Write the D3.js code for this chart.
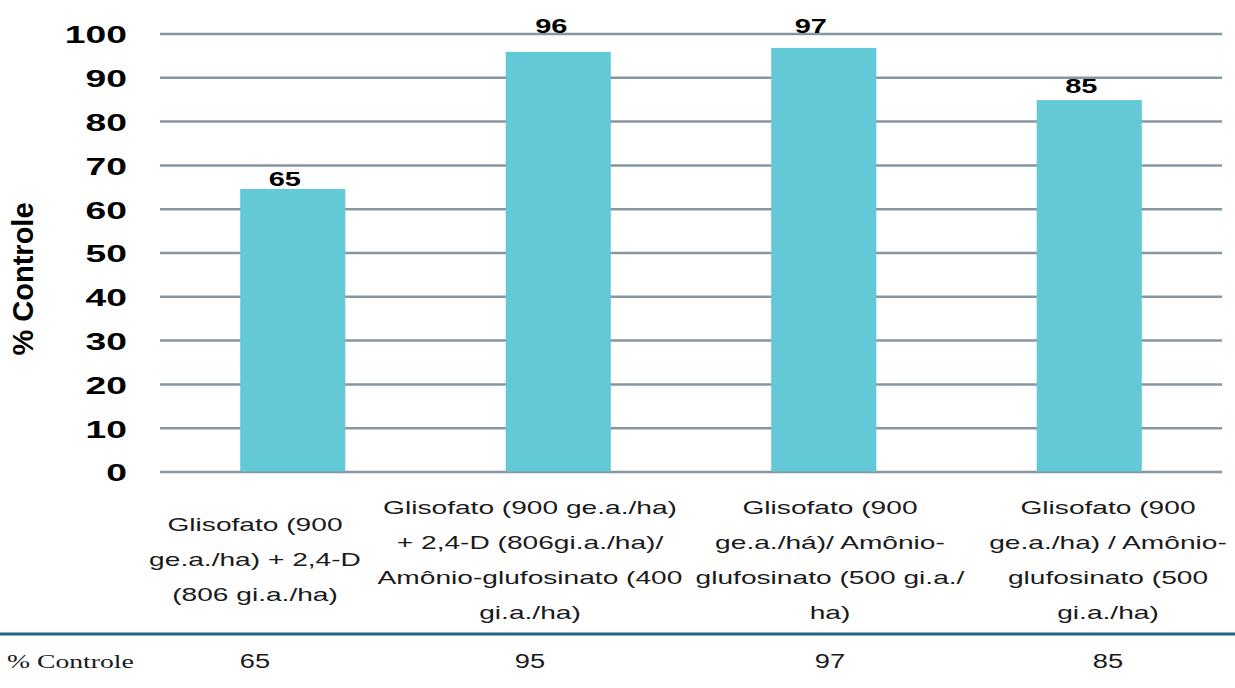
<!DOCTYPE html>
<html>
<head>
<meta charset="utf-8">
<script src="https://cdn.jsdelivr.net/npm/d3@7"></script>
<style>
  body { margin: 0; background: #fff; }
  svg { display: block; font-family: "Liberation Sans", Arial, sans-serif; }
</style>
</head>
<body>
<script>
var categories = [
    "Glisofato (900\nge.a./ha) + 2,4-D\n(806 gi.a./ha)",
    "Glisofato (900 ge.a./ha)\n+ 2,4-D (806gi.a./ha)/\nAmônio-glufosinato (400\ngi.a./ha)",
    "Glisofato (900\nge.a./há)/ Amônio-\nglufosinato (500 gi.a./\nha)",
    "Glisofato (900\nge.a./ha) / Amônio-\nglufosinato (500\ngi.a./ha)"
];
var barValues = [64.5, 95.8, 96.7, 84.8];
var barLabels = ["65", "96", "97", "85"];
var tableValues = ["65", "95", "97", "85"];
var yTicks = [0, 10, 20, 30, 40, 50, 60, 70, 80, 90, 100];

var width = 1235;
var height = 688;
var plot = {left: 160, right: 1222, top: 33.5, bottom: 471.5};
// the original picture is stretched sideways, so horizontal text is too
var sx = 1.52;
// label / table columns do not sit under the bars exactly
var colCenters = [255, 530, 830, 1108];
// value labels were nudged by hand in the original
var labelDx = [-8, -7, -13, -8];
var labelLift = [3, 18.5, 15, 7];

var svg = d3.select("body").append("svg")
    .attr("width", width)
    .attr("height", height);

var xScale = d3.scaleBand()
    .domain(d3.range(categories.length))
    .range([plot.left, plot.right])
    .paddingInner(0.604)
    .paddingOuter(0.302);

var yScale = d3.scaleLinear()
    .domain([0, 100])
    .range([plot.bottom, plot.top]);

// gridlines + tick labels
var yAxis = d3.axisLeft(yScale)
    .tickValues(yTicks)
    .tickSize(-(plot.right - plot.left))
    .tickFormat(d3.format("d"));

var gy = svg.append("g")
    .attr("transform", "translate(" + plot.left + ",0)")
    .call(yAxis);
gy.select(".domain").remove();
gy.selectAll(".tick line")
    .attr("stroke", "#8797a2")
    .attr("stroke-width", 2.5);
gy.selectAll(".tick text")
    .attr("x", -33 / 1.52)
    .attr("dy", "0.38em")
    .attr("transform", "scale(1.52,1)")
    .attr("font-family", "'Liberation Sans', Arial, sans-serif")
    .attr("font-size", "24.5px")
    .attr("font-weight", "bold")
    .attr("fill", "#000");

// bars
svg.selectAll("rect.bar")
    .data(barValues)
    .enter()
    .append("rect")
    .attr("class", "bar")
    .attr("x", (d, i) => xScale(i))
    .attr("width", xScale.bandwidth())
    .attr("y", d => yScale(d))
    .attr("height", d => yScale(0) - yScale(d))
    .attr("fill", "#64c9d7");

// value labels
svg.selectAll("text.val")
    .data(barValues)
    .enter()
    .append("text")
    .attr("class", "val")
    .attr("transform", (d, i) => "translate(" + (xScale(i) + xScale.bandwidth() / 2 + labelDx[i]) + "," + (yScale(d) - labelLift[i]) + ") scale(1.38,1)")
    .attr("text-anchor", "middle")
    .attr("font-size", "21px")
    .attr("font-weight", "bold")
    .attr("fill", "#000")
    .text((d, i) => barLabels[i]);

// y axis title
svg.append("text")
    .attr("transform", "translate(33,279) rotate(-90)")
    .attr("text-anchor", "middle")
    .attr("font-size", "29px")
    .attr("font-weight", "bold")
    .text("% Controle");

// category labels
var lineH = 35;
categories.forEach((c, i) => {
    var lines = c.split("\n");
    var y0 = 560 - (lines.length - 1) * lineH / 2;
    var t = svg.append("text")
        .attr("transform", "translate(" + colCenters[i] + ",0) scale(" + sx + ",1)")
        .attr("text-anchor", "middle")
        .attr("font-size", "18.5px")
        .attr("fill", "#1a1a1a");
    lines.forEach((l, j) => {
        t.append("tspan")
            .attr("x", 0)
            .attr("y", y0 + j * lineH)
            .attr("dy", "0.35em")
            .text(l);
    });
});

// table row
svg.append("line")
    .attr("x1", 0)
    .attr("x2", width)
    .attr("y1", 634)
    .attr("y2", 634)
    .attr("stroke", "#1f6482")
    .attr("stroke-width", 3);

svg.append("text")
    .attr("transform", "translate(7,661) scale(1.42,1)")
    .attr("dy", "0.35em")
    .attr("font-family", "'Liberation Serif', 'Times New Roman', serif")
    .attr("font-size", "19.5px")
    .attr("fill", "#1a1a1a")
    .text("% Controle");

svg.selectAll("text.tbl")
    .data(tableValues)
    .enter()
    .append("text")
    .attr("class", "tbl")
    .attr("transform", (d, i) => "translate(" + colCenters[i] + ",661) scale(1.4,1)")
    .attr("dy", "0.35em")
    .attr("text-anchor", "middle")
    .attr("font-size", "19.5px")
    .attr("fill", "#1a1a1a")
    .text(d => d);
</script>
</body>
</html>
